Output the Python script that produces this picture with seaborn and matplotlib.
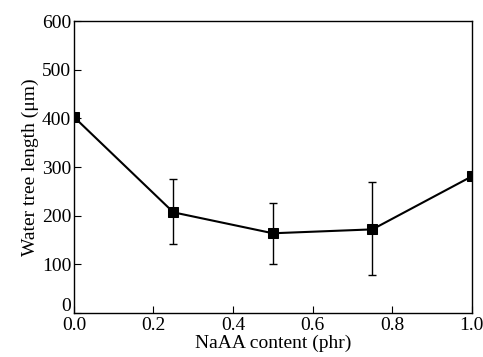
import matplotlib
matplotlib.use("Agg")
import matplotlib.pyplot as plt
import matplotlib.transforms as mtransforms
import pandas as pd
import seaborn as sns

naaa = [0.0, 0.25, 0.5, 0.75, 1.0]
length = [403, 207, 164, 172, 281]
err_low = [0, 66, 64, 94, 0]
err_high = [0, 68, 63, 97, 0]

df = pd.DataFrame({"NaAA": naaa, "Length": length})

sns.set_style("ticks")
plt.rcParams['font.family'] = ['Liberation Serif', 'DejaVu Serif']

fig = plt.figure(figsize=(4.83, 3.57), dpi=100)
ax = fig.add_axes([0.153, 0.123, 0.824, 0.818])

ax.errorbar(naaa, length, yerr=[err_low, err_high], fmt='none', ecolor='black',
            elinewidth=1, capsize=3, capthick=1)
sns.lineplot(data=df, x="NaAA", y="Length", marker='s', color='black', markersize=7,
             markeredgecolor='black', linewidth=1.5, clip_on=True, ax=ax)

ax.set_xlim(0, 1.0)
ax.set_ylim(0, 600)
ax.set_xticks([0.0, 0.2, 0.4, 0.6, 0.8, 1.0])
ax.set_yticks([0, 100, 200, 300, 400, 500, 600])
ax.set_xticklabels(['0.0', '0.2', '0.4', '0.6', '0.8', '1.0'])
ax.tick_params(direction='in', length=5, labelsize=14, color='black', labelcolor='black')
ax.tick_params(axis='x', pad=3)
ax.tick_params(axis='y', pad=2)
for s in ax.spines.values():
    s.set_color('black')
    s.set_linewidth(1)
    s.set_zorder(5)
ax.set_xlabel('NaAA content (phr)', size=14, labelpad=0, color='black')
ax.set_ylabel('Water tree length (μm)', size=14, labelpad=2, color='black')

# nudge the "0" label up so it clears "0.0"
zero = ax.get_yticklabels()[0]
zero.set_transform(zero.get_transform() + mtransforms.ScaledTranslation(0, 6 / 72, fig.dpi_scale_trans))

fig.savefig('out.png', dpi=100)
